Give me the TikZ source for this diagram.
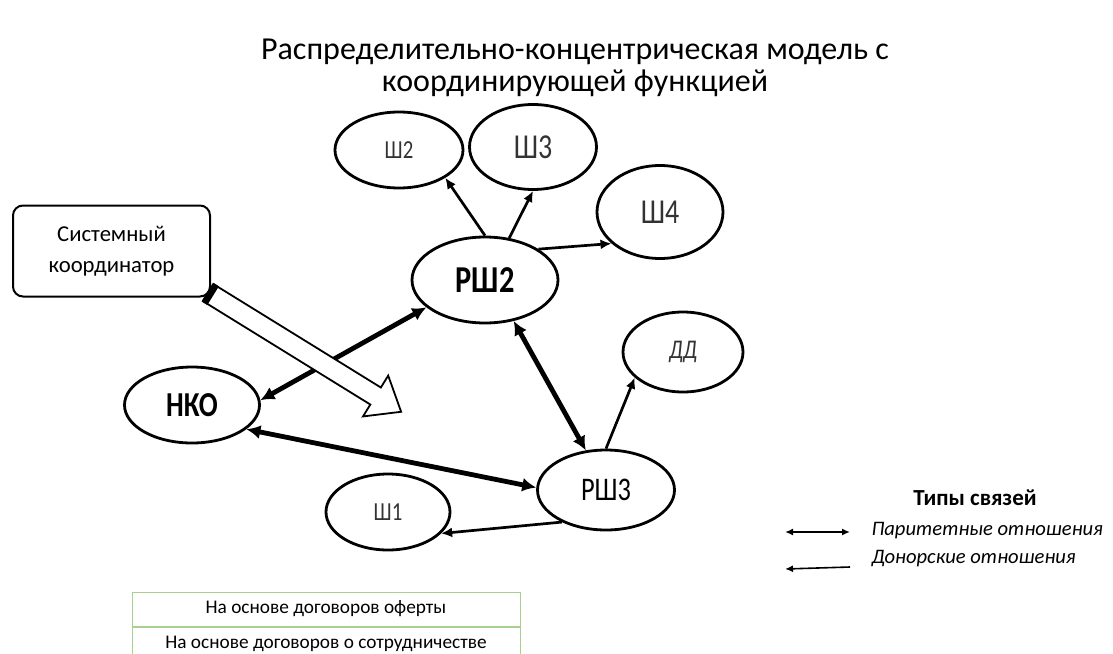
\documentclass[tikz,border=0pt]{standalone}
\usepackage{fontspec}
\setmainfont{Carlito}
\newfontfamily\narrowfont{Carlito}[FakeStretch=0.8]
\usetikzlibrary{shapes.geometric,arrows.meta}
\definecolor{rowgreen}{HTML}{A9D08E}

\begin{document}
\begin{tikzpicture}[
        x=1pt, y=-1pt,
        school/.style={ellipse, draw, line width=2.8pt, inner sep=0pt, text=black!80,
            font=\narrowfont\fontsize{26}{26}\selectfont},
        hub/.style={school, text=black, font=\narrowfont\bfseries\fontsize{35}{35}\selectfont},
        parity/.style={line width=4.8pt, {Latex[length=14pt,width=14pt]}-{Latex[length=14pt,width=14pt]}},
        donor/.style={line width=2.7pt, -{Latex[length=11pt,width=10pt]}},
        rowbox/.style={draw=rowgreen, line width=1pt, minimum width=388, minimum height=34,
            inner sep=0pt, font=\fontsize{19.3}{19.3}\selectfont},
        legend/.style={anchor=west, font=\itshape\fontsize{20.6}{20.6}\selectfont},
    ]
    \useasboundingbox (0,0) rectangle (1113,653);

    \node[align=center, font=\fontsize{32}{32}\selectfont] (title) at (575,68)
        {Распределительно-концентрическая модель с\\координирующей функцией};

    % узлы
    \node[draw, rounded corners=10pt, line width=2pt, minimum width=197, minimum height=91,
        align=center, font=\fontsize{22.7}{31}\selectfont] (coord) at (111.5,251) {Системный\\координатор};
    \node[school, minimum width=128, minimum height=76] (sh2) at (399,150) {Ш2};
    \node[school, minimum width=127, minimum height=85, font=\narrowfont\fontsize{35}{35}\selectfont] (sh3) at (533,147) {Ш3};
    \node[school, minimum width=126, minimum height=93, font=\narrowfont\fontsize{35}{35}\selectfont] (sh4) at (660,212) {Ш4};
    \node[hub, minimum width=146, minimum height=86, font=\narrowfont\bfseries\fontsize{38}{38}\selectfont] (rsh2) at (485,280) {РШ2};
    \node[school, minimum width=120, minimum height=80, font=\narrowfont\itshape\fontsize{27}{27}\selectfont] (dd) at (683,352) {ДД};
    \node[hub, minimum width=137, minimum height=80, font=\narrowfont\fontsize{33}{33}\selectfont] (rsh3) at (606,490) {РШ3};
    \node[school, minimum width=124, minimum height=76] (sh1) at (388,512) {Ш1};
    \node[hub, minimum width=135, minimum height=76] (nko) at (192,405) {НКО};

    % связи
    \draw[parity] (nko.4) -- (rsh2.205);
    \draw[parity] (nko.336) -- (rsh3.178);
    \draw[parity] (rsh2.305) -- (rsh3.117);
    \draw[donor] (rsh2.90) -- (sh2.329);
    \draw[donor] (rsh2.60) -- (sh3.270);
    \draw[donor] (rsh2.30) -- (sh4.213);
    \draw[donor] (rsh3.90) -- (dd.208);
    \draw[donor] (rsh3.216) -- (sh1.338);

    % стрелка координатора
    \coordinate (hollowstart) at ([shift={(-3,-5)}]coord.south east);
    \begin{scope}[shift={(hollowstart)}, rotate=-31.7]
        \draw[line width=1.8pt, fill=white, line join=miter]
            (0,-10) -- (197,-10) -- (197,-24) -- (227,0) -- (197,24) -- (197,10) -- (0,10) -- cycle;
        \fill (0,-11) rectangle (6,11);
    \end{scope}

    % таблица
    \node[rowbox] (row1) at (326,609) {На основе договоров оферты};
    \node[rowbox, anchor=north] (row2) at (row1.south) {На основе договоров о сотрудничестве};

    % легенда
    \node[font=\bfseries\fontsize{23}{23}\selectfont] (legtitle) at (975,498) {Типы связей};
    \coordinate (pa) at (785,532);
    \coordinate (pb) at (850,532);
    \coordinate (da) at (785,569);
    \coordinate (db) at (850,567);
    \draw[line width=1.6pt, {Latex[length=8pt,width=7pt]}-{Latex[length=8pt,width=7pt]}] (pa) -- (pb);
    \draw[line width=1.6pt, {Latex[length=8pt,width=7pt]}-] (da) -- (db);
    \node[legend] (parlabel) at (868,531) {Паритетные отношения};
    \node[legend] (donlabel) at (868,559) {Донорские отношения};
\end{tikzpicture}
\end{document}
